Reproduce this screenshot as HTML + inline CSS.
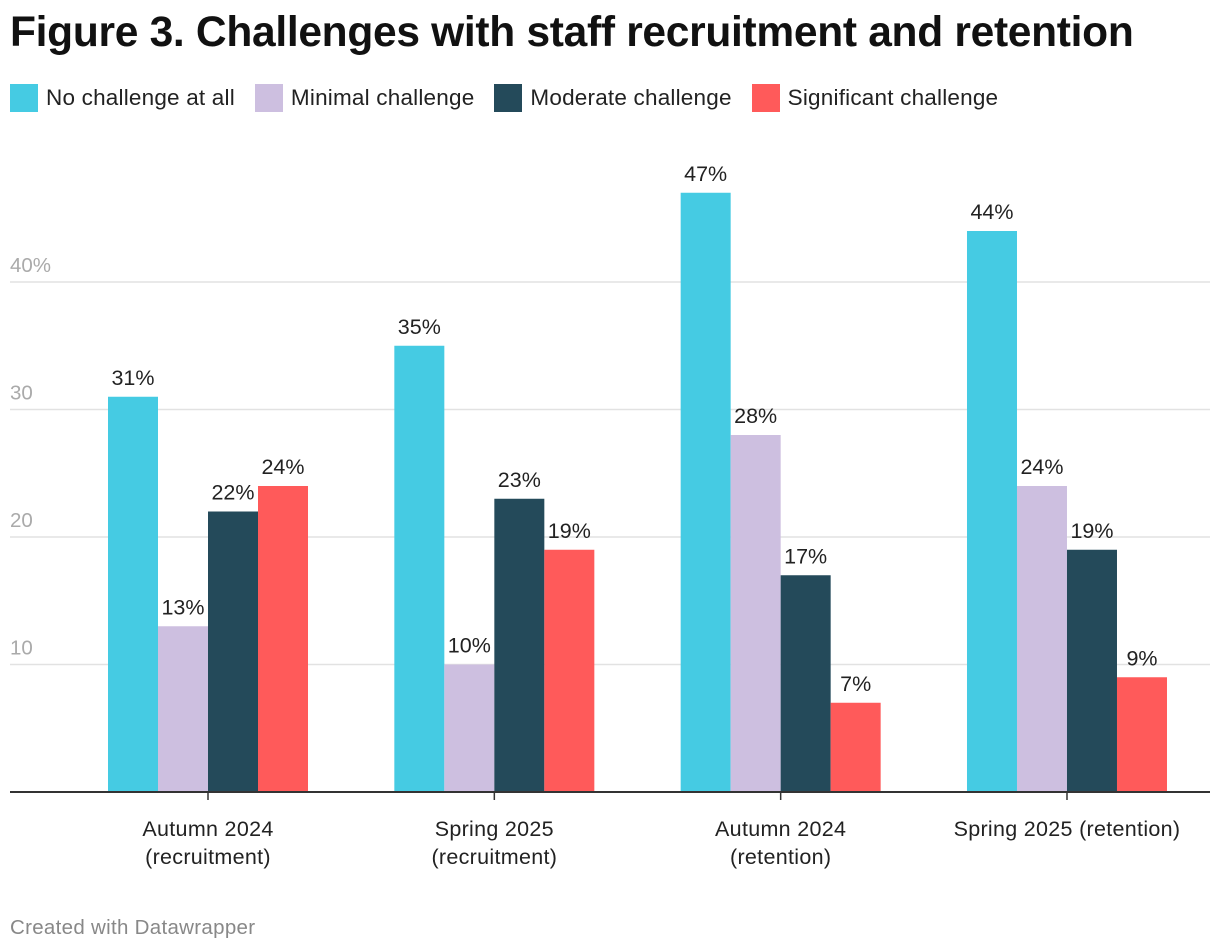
<!DOCTYPE html>
<html><head><meta charset="utf-8">
<style>
body{margin:0;background:#fff;width:1220px;height:952px;overflow:hidden;font-family:"Liberation Sans",Roboto,sans-serif;}
#title{position:absolute;left:10px;top:9px;font-size:42.5px;font-weight:bold;color:#111;letter-spacing:-0.3px;margin:0;white-space:nowrap}
#legend{position:absolute;left:10px;top:84px;display:flex;font-size:22.5px;color:#222;letter-spacing:0.2px}
.li{display:flex;align-items:center;margin-right:20px}
.sw{width:28px;height:28px;margin-right:8px}
#footer{position:absolute;left:10px;top:916px;font-size:20.5px;color:#888;letter-spacing:0.3px}
svg{position:absolute;left:0;top:0}
</style></head><body>
<h1 id="title">Figure 3. Challenges with staff recruitment and retention</h1>
<div id="legend">
<div class="li"><div class="sw" style="background:#45cbe3"></div>No challenge at all</div>
<div class="li"><div class="sw" style="background:#cdbfe0"></div>Minimal challenge</div>
<div class="li"><div class="sw" style="background:#244a5a"></div>Moderate challenge</div>
<div class="li"><div class="sw" style="background:#ff5a5a"></div>Significant challenge</div>
</div>
<svg id="chart" width="1220" height="952"></svg>
<div id="footer">Created with Datawrapper</div>
<script>
const categories=[["Autumn 2024","(recruitment)"],["Spring 2025","(recruitment)"],["Autumn 2024","(retention)"],["Spring 2025 (retention)"]];
const noChallenge=[31,35,47,44];
const minimal=[13,10,28,24];
const moderate=[22,23,17,19];
const significant=[24,19,7,9];
const yTicks=[10,20,30,40];
const yTickLabels=["10","20","30","40%"];
const series=[noChallenge,minimal,moderate,significant];
const seriesNames=["no-challenge","minimal","moderate","significant"];
const colors=["#45cbe3","#cdbfe0","#244a5a","#ff5a5a"];
const NS="http://www.w3.org/2000/svg";
const svg=document.getElementById('chart');
const base=792, unit=12.75, left=10, right=1210;
const y=v=>base-v*unit;
const gx=i=>208+i*286.33;
const bw=50;
function mk(t,a){const e=document.createElementNS(NS,t);for(const k in a)e.setAttribute(k,a[k]);svg.appendChild(e);return e;}
yTicks.forEach((t,i)=>{
 const l=mk('line',{x1:left,x2:right,y1:y(t),y2:y(t),stroke:'#e2e2e2','stroke-width':1.5});
 
 
 const tx=mk('text',{x:left,y:y(t)-10,'font-size':20.5,fill:'#aaa','font-family':'Liberation Sans, sans-serif'});
 tx.textContent=yTickLabels[i];
 
 
});
categories.forEach((c,i)=>{
 series.forEach((s,j)=>{
  const x=gx(i)-2*bw+j*bw;
  const r=mk('rect',{x:x,y:y(s[i]),width:bw,height:s[i]*unit,fill:colors[j]});
  
  
  const t=mk('text',{x:x+bw/2,y:y(s[i])-12,'font-size':21.5,fill:'#222','text-anchor':'middle','font-family':'Liberation Sans, sans-serif'});
  t.textContent=s[i]+'%';
  
  
 });
 const tk=mk('line',{x1:gx(i),x2:gx(i),y1:base,y2:base+8,stroke:'#333','stroke-width':1.5});
 
 
 c.forEach((line,k)=>{
  const t=mk('text',{x:gx(i),y:836+k*28,'font-size':21.5,fill:'#222','text-anchor':'middle','font-family':'Liberation Sans, sans-serif','letter-spacing':'0.3'});
  t.textContent=line;
  
  
 });
});
const ax=mk('line',{x1:left,x2:right,y1:base,y2:base,stroke:'#333','stroke-width':2});


</script>
</body></html>
